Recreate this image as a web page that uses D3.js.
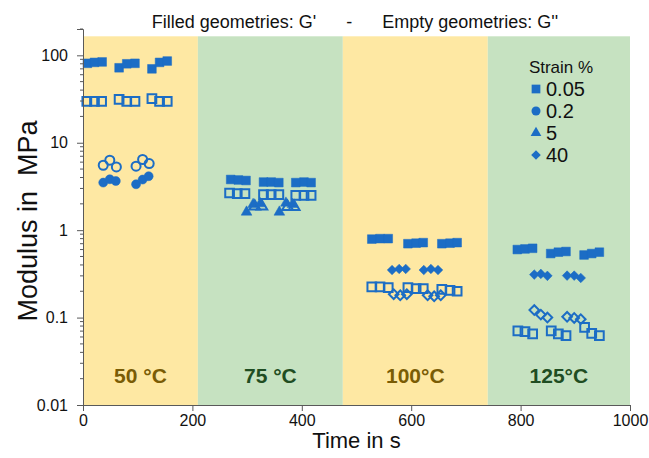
<!DOCTYPE html>
<html lang="en">
  <head>
    <meta charset="utf-8">
    <title>Modulus vs time</title>
    <script src="https://d3js.org/d3.v7.min.js"></script>
    <style>
      body { margin: 0; background: #fff; }
      text { font-family: Arial, "Liberation Sans", sans-serif; }
    </style>
  </head>
  <body>
    <script>
      // temperature bands (time in s)
      var bandStart = [0, 210, 475, 740];
      var bandEnd = [210, 475, 740, 1000];
      var bandLabels = ["50 °C", "75 °C", "100°C", "125°C"];

      var xTicks = [0, 200, 400, 600, 800, 1000];
      var yTicks = [0.01, 0.1, 1, 10, 100];

      // G' (filled) and G'' (empty) per strain
      var gp005_t = [8, 21, 35, 66, 80, 95, 126, 140, 154,
                     270, 284, 298, 330, 344, 358, 389, 404, 417,
                     528, 543, 558, 594, 609, 622, 656, 671, 684,
                     794, 808, 822, 855, 869, 883, 916, 930, 944];
      var gp005_v = [81, 83, 84, 72, 80, 81, 70, 83, 86,
                     3.8, 3.75, 3.7, 3.55, 3.55, 3.5, 3.5, 3.55, 3.5,
                     0.79, 0.8, 0.8, 0.7, 0.71, 0.72, 0.7, 0.71, 0.72,
                     0.6, 0.61, 0.62, 0.54, 0.56, 0.57, 0.52, 0.54, 0.56];
      var gpp005_t = [7, 21, 34, 66, 80, 95, 126, 140, 154,
                      268, 282, 296, 330, 344, 358, 389, 404, 417,
                      528, 543, 558, 594, 609, 622, 656, 671, 684,
                      795, 808, 822, 856, 869, 883, 917, 930, 944];
      var gpp005_v = [29.8, 29.8, 29.8, 31.4, 29.8, 29.8, 31.9, 29.8, 29.8,
                      2.66, 2.62, 2.62, 2.55, 2.55, 2.55, 2.5, 2.5, 2.5,
                      0.225, 0.225, 0.22, 0.22, 0.215, 0.215, 0.21, 0.205, 0.2,
                      0.0705, 0.069, 0.065, 0.0705, 0.065, 0.062, 0.0774, 0.066, 0.062];

      var gp02_t = [37, 49, 60, 97, 109, 120];
      var gp02_v = [3.5, 3.82, 3.65, 3.35, 3.79, 4.14];
      var gpp02_t = [37, 49, 61, 97, 109, 121];
      var gpp02_v = [5.53, 6.31, 5.29, 5.39, 6.43, 5.78];

      var gp5_t = [299, 311, 324, 359, 371, 383];
      var gp5_v = [1.61, 1.97, 2.01, 1.61, 2.04, 1.97];
      var gpp5_t = [314, 327, 374, 386];
      var gpp5_v = [1.87, 1.87, 1.85, 1.85];

      var gp40_t = [565, 578, 590, 623, 636, 649, 825, 837, 849, 885, 898, 910];
      var gp40_v = [0.35, 0.36, 0.36, 0.35, 0.36, 0.35, 0.31, 0.316, 0.3, 0.302, 0.302, 0.284];
      var gpp40_t = [568, 580, 592, 630, 642, 654, 825, 837, 849, 885, 898, 910];
      var gpp40_v = [0.185, 0.18, 0.185, 0.18, 0.175, 0.18, 0.122, 0.108, 0.1, 0.102, 0.099, 0.096];

      var legendLabels = ["0.05", "0.2", "5", "40"];

      var w = 649, h = 458;
      var blue = "#1c6dc5";
      var yellow = "#fee8a3", green = "#c6e2c1";
      var brown = "#7a5c05", dkgreen = "#1f4d22";

      var x = d3.scaleLinear().domain([0, 1000]).range([83, 630]);
      var y = d3.scaleLog().domain([0.01, 200]).range([405, 29]);

      var svg = d3.select("body").append("svg")
                  .attr("width", w)
                  .attr("height", h);

      // background bands
      svg.selectAll("rect.band")
         .data(bandStart)
         .enter()
         .append("rect")
           .attr("class", "band")
           .attr("x", function(d) { return x(d); })
           .attr("y", y(165))
           .attr("width", function(d, i) { return x(bandEnd[i]) - x(d); })
           .attr("height", y(0.01) - y(165))
           .attr("fill", function(d, i) { return i % 2 ? green : yellow; });

      svg.selectAll("text.temp")
         .data(bandLabels)
         .enter()
         .append("text")
           .attr("class", "temp")
           .attr("x", function(d, i) { return x((bandStart[i] + bandEnd[i]) / 2); })
           .attr("y", y(0.018))
           .attr("text-anchor", "middle")
           .attr("font-size", 21)
           .attr("font-weight", "bold")
           .attr("fill", function(d, i) { return i % 2 ? dkgreen : brown; })
           .text(function(d) { return d; });

      // markers
      function sym(type, size) {
        return d3.symbol().type(type).size(size)();
      }
      var shapes = {
        square: sym(d3.symbolSquare, 76),
        circle: sym(d3.symbolCircle, 64),
        triangle: sym(d3.symbolTriangle, 50),
        diamond: sym(d3.symbolSquare, 46)
      };

      function drawSeries(ts, vs, shape, filled) {
        var rot = shape == "diamond" ? " rotate(45)" : "";
        svg.append("g")
           .selectAll("path")
           .data(ts)
           .enter()
           .append("path")
             .attr("d", shapes[shape])
             .attr("transform", function(d, i) {
               return "translate(" + x(d) + "," + y(vs[i]) + ")" + rot;
             })
             .attr("fill", filled ? blue : "none")
             .attr("stroke", blue)
             .attr("stroke-width", filled ? 0.5 : 2);
      }

      drawSeries(gpp005_t, gpp005_v, "square", false);
      drawSeries(gp005_t, gp005_v, "square", true);
      drawSeries(gpp02_t, gpp02_v, "circle", false);
      drawSeries(gp02_t, gp02_v, "circle", true);
      drawSeries(gp5_t, gp5_v, "triangle", true);
      drawSeries(gpp5_t, gpp5_v, "triangle", false);
      drawSeries(gpp40_t, gpp40_v, "diamond", false);
      drawSeries(gp40_t, gp40_v, "diamond", true);

      // axes
      var yAxis = d3.axisLeft(y)
                    .tickValues(yTicks)
                    .tickFormat(function(d) { return String(d); })
                    .tickSize(6)
                    .tickPadding(9);
      var gy = svg.append("g")
                  .attr("transform", "translate(" + x(0) + ",0)")
                  .call(yAxis);

      var minor = [];
      [0.01, 0.1, 1, 10, 100].forEach(function(dec) {
        for (var k = 2; k <= 9; k++) {
          if (dec * k <= 200) minor.push(dec * k);
        }
      });
      gy.selectAll("line.minor")
        .data(minor)
        .enter()
        .append("line")
          .attr("class", "minor")
          .attr("x1", -3).attr("x2", 0)
          .attr("y1", function(d) { return y(d); })
          .attr("y2", function(d) { return y(d); })
          .attr("stroke", "#595959");

      var xAxis = d3.axisBottom(x)
                    .tickValues(xTicks)
                    .tickFormat(d3.format("d"))
                    .tickSize(6)
                    .tickPadding(4);
      var gx = svg.append("g")
                  .attr("transform", "translate(0," + y(0.01) + ")")
                  .call(xAxis);

      [gx, gy].forEach(function(g) {
        g.selectAll("path.domain").attr("stroke", "#595959");
        g.selectAll(".tick line").attr("stroke", "#595959");
        g.selectAll(".tick text")
         .attr("font-size", 16)
         .attr("font-family", "Arial, 'Liberation Sans', sans-serif")
         .attr("fill", "#111");
      });

      // titles
      svg.append("text")
         .attr("x", x(500))
         .attr("y", 448)
         .attr("text-anchor", "middle")
         .attr("font-size", 22)
         .attr("fill", "#111")
         .text("Time in s");

      svg.append("text")
         .attr("transform", "translate(37," + ((y(0.01) + y(200)) / 2 + 4) + ") rotate(-90)")
         .attr("text-anchor", "middle")
         .attr("font-size", 27)
         .attr("fill", "#111")
         .attr("xml:space", "preserve")
         .style("white-space", "pre")
         .text("Modulus in  MPa");

      svg.append("text")
         .attr("x", 355)
         .attr("y", 28)
         .attr("text-anchor", "middle")
         .attr("font-size", 18)
         .attr("fill", "#111")
         .attr("xml:space", "preserve")
         .style("white-space", "pre")
         .text("Filled geometries: G'      -      Empty geometries: G''");

      // legend
      var lg = svg.append("g");
      lg.append("text")
        .attr("x", 561)
        .attr("y", 73)
        .attr("text-anchor", "middle")
        .attr("font-size", 17)
        .attr("fill", "#111")
        .text("Strain %");

      var legShapes = ["square", "circle", "triangle", "diamond"];
      legShapes.forEach(function(s, i) {
        var ly = 89 + i * 22;
        lg.append("path")
          .attr("d", shapes[s])
          .attr("transform", "translate(536," + ly + ")" + (s == "diamond" ? " rotate(45)" : ""))
          .attr("fill", blue);
        lg.append("text")
          .attr("x", 546)
          .attr("y", ly + 7)
          .attr("font-size", 20)
          .attr("fill", "#111")
          .text(legendLabels[i]);
      });
    </script>
  </body>
</html>
